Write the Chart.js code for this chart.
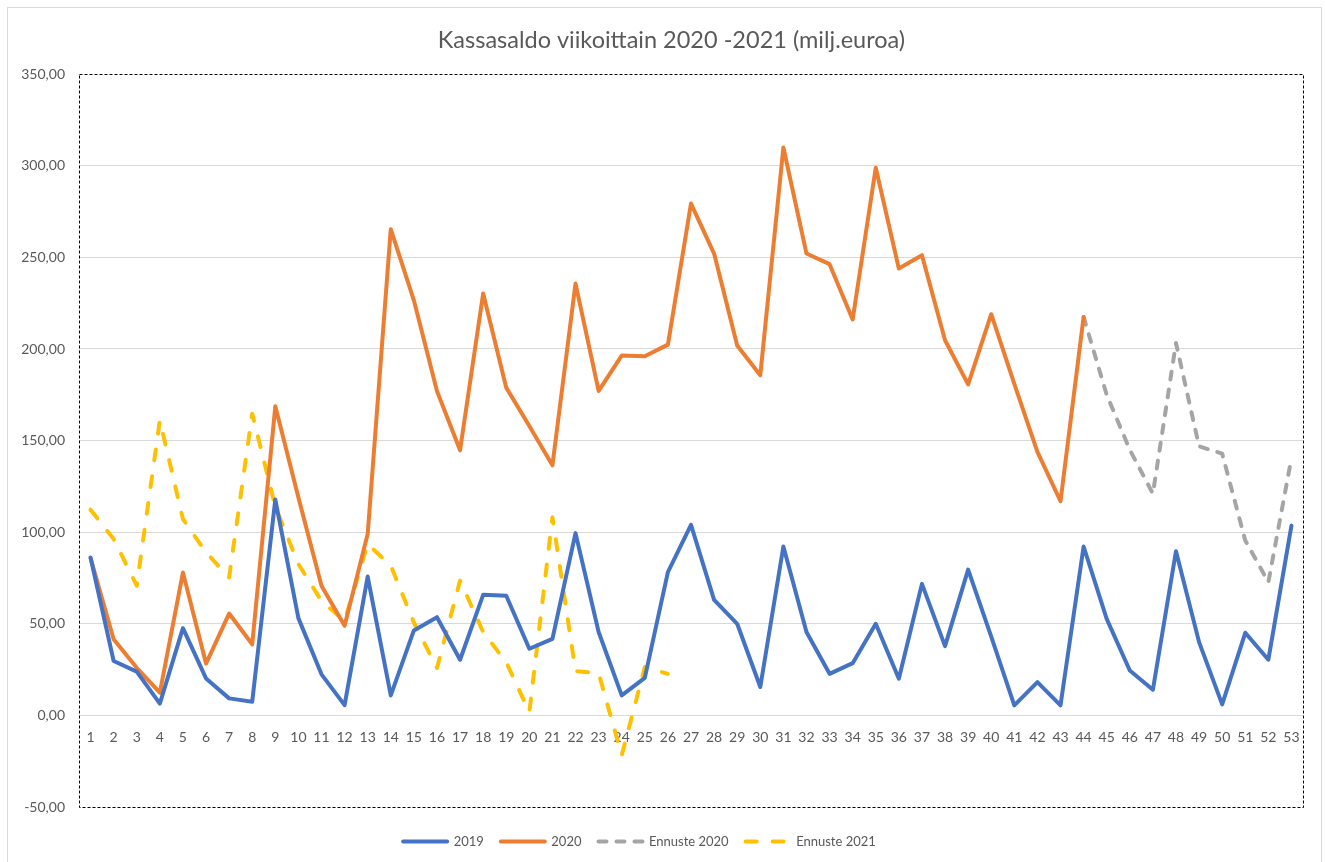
<!DOCTYPE html>
<html>
<head>
<meta charset="utf-8">
<script src="https://cdn.jsdelivr.net/npm/chart.js@4.4.1/dist/chart.umd.min.js"></script>
<style>
    html, body { margin: 0; padding: 0; background: #fff; }
    #wrap { width: 1325px; height: 862px; }
</style>
</head>
<body>
<div id="wrap"><canvas id="chart"></canvas></div>
<script>
// viikot 1..53
const weeks = [];
for (let i = 1; i <= 53; i++) weeks.push(String(i));

const yTicks = [-50, 0, 50, 100, 150, 200, 250, 300, 350];

const values2019 = [
    86.2, 29.7, 23.9, 6.4, 47.6, 20.2, 9.3, 7.5, 117.8, 53.1,
    22.4, 5.6, 75.8, 10.9, 46.4, 53.6, 30.4, 65.8, 65.3, 36.4,
    41.8, 99.5, 45.5, 10.9, 20.5, 78.2, 104.0, 63.1, 50.0, 15.5,
    92.2, 45.5, 22.7, 28.5, 50.0, 20.0, 71.8, 37.8, 79.6, 43.0,
    5.5, 18.2, 5.5, 92.2, 52.7, 24.5, 14.0, 89.6, 40.0, 6.0,
    45.1, 30.4, 103.6
];

const values2020 = [
    85.9, 41.6, 26.0, 12.4, 78.0, 28.3, 55.6, 38.8, 168.7, 119.0,
    70.8, 48.9, 99.0, 265.4, 226.6, 177.1, 144.7, 230.3, 178.9, 158.0,
    136.5, 235.7, 177.1, 196.4, 196.0, 202.4, 279.4, 252.1, 201.9, 185.7,
    310.0, 252.1, 246.3, 216.1, 298.9, 243.9, 251.2, 204.8, 180.7, 219.0,
    181.0, 143.8, 116.9, 217.5, null, null, null, null, null, null,
    null, null, null
];

const forecast2020 = [
    null, null, null, null, null, null, null, null, null, null,
    null, null, null, null, null, null, null, null, null, null,
    null, null, null, null, null, null, null, null, null, null,
    null, null, null, null, null, null, null, null, null, null,
    null, null, null, 217.5, 175.0, 145.0, 121.0, 203.3, 146.9, 142.9,
    95.5, 72.7, 140.5
];

const forecast2021 = [
    112.3, 96.3, 70.8, 161.0, 107.2, 89.0, 75.3, 164.7, 114.0, 82.6,
    62.5, 51.6, 93.6, 81.7, 50.7, 25.9, 73.6, 45.5, 29.0, 1.8,
    108.2, 24.2, 23.1, -21.8, 26.4, 22.7
];

const textColor = '#595959';
const fontName = 'Lato, "Open Sans", sans-serif';

const frames = {
    id: 'frames',
    afterLayout(chart) {
        // Excel keeps the title a bit right and the legend a bit left of centre
        chart.titleBlock.left += 20;
        chart.titleBlock.right += 20;
        chart.legend.left -= 12;
        chart.legend.right -= 12;
    },
    beforeDraw(chart) {
        const ctx = chart.ctx;
        ctx.save();
        ctx.fillStyle = '#fff';
        ctx.fillRect(0, 0, chart.width, chart.height);
        ctx.strokeStyle = '#d9d9d9';
        ctx.lineWidth = 1;
        ctx.strokeRect(7.5, 7.5, 1314, 900);
        ctx.restore();
    },
    afterDraw(chart) {
        const a = chart.chartArea;
        const ctx = chart.ctx;
        ctx.save();
        ctx.strokeStyle = '#000';
        ctx.lineWidth = 1;
        ctx.setLineDash([3, 2]);
        ctx.strokeRect(Math.round(a.left) + 0.5, Math.round(a.top) + 0.5,
            Math.round(a.right - a.left), Math.round(a.bottom - a.top));
        ctx.restore();
    }
};

function line(label, data, color, dash) {
    return {
        label: label,
        data: data,
        borderColor: color,
        backgroundColor: color,
        borderWidth: 4,
        borderDash: dash || [],
        borderCapStyle: 'round',
        borderJoinStyle: 'round',
        pointRadius: 0,
        pointHoverRadius: 0,
        pointStyle: 'line',
        tension: 0,
        spanGaps: false
    };
}

new Chart(document.getElementById('chart'), {
    type: 'line',
    data: {
        labels: weeks,
        datasets: [
            line('2019', values2019, '#4472C4'),
            line('2020', values2020, '#ED7D31'),
            line('Ennuste 2020', forecast2020, '#A5A5A5', [8, 10]),
            line('Ennuste 2021', forecast2021, '#FFC000', [11, 16])
        ]
    },
    options: {
        responsive: true,
        maintainAspectRatio: false,
        animation: false,
        layout: { padding: { left: 0, right: 22, top: 0, bottom: 4 } },
        plugins: {
            title: {
                display: true,
                text: 'Kassasaldo viikoittain 2020 -2021 (milj.euroa)',
                color: textColor,
                font: { family: fontName, size: 23.5, weight: 'normal' },
                padding: { top: 26, bottom: 20 }
            },
            legend: {
                position: 'bottom',
                title: {
                    display: true,
                    text: ' ',
                    font: { size: 6, lineHeight: 1 },
                    padding: { top: 5, bottom: 0 }
                },
                labels: {
                    usePointStyle: true,
                    pointStyleWidth: 44,
                    color: textColor,
                    font: { family: fontName, size: 13 },
                    padding: 17,
                    generateLabels(chart) {
                        const items = Chart.defaults.plugins.legend.labels.generateLabels(chart);
                        items.forEach(it => {
                            const ds = chart.data.datasets[it.datasetIndex];
                            it.lineDash = ds.borderDash;
                            it.lineCap = 'round';
                            it.lineWidth = ds.borderWidth;
                            it.strokeStyle = ds.borderColor;
                        });
                        return items;
                    }
                }
            },
            tooltip: { enabled: false }
        },
        scales: {
            x: {
                position: { y: 0 },
                offset: true,
                grid: { display: false, drawTicks: false },
                border: { display: false },
                ticks: {
                    color: textColor,
                    font: { family: fontName, size: 14 },
                    padding: 14,
                    autoSkip: false,
                    maxRotation: 0
                }
            },
            y: {
                min: yTicks[0],
                max: yTicks[yTicks.length - 1],
                afterBuildTicks(scale) {
                    scale.ticks = yTicks.map(v => ({ value: v }));
                },
                afterFit(scale) {
                    scale.width = 79;
                },
                grid: {
                    drawTicks: false,
                    color: c => (c.tick && (c.tick.value === 350 || c.tick.value === -50)) ? 'rgba(0,0,0,0)' : '#d9d9d9'
                },
                border: { display: false },
                ticks: {
                    color: textColor,
                    font: { family: fontName, size: 14 },
                    padding: 14,
                    callback: v => v.toFixed(2).replace('.', ',')
                }
            }
        }
    },
    plugins: [frames]
});
</script>
</body>
</html>
